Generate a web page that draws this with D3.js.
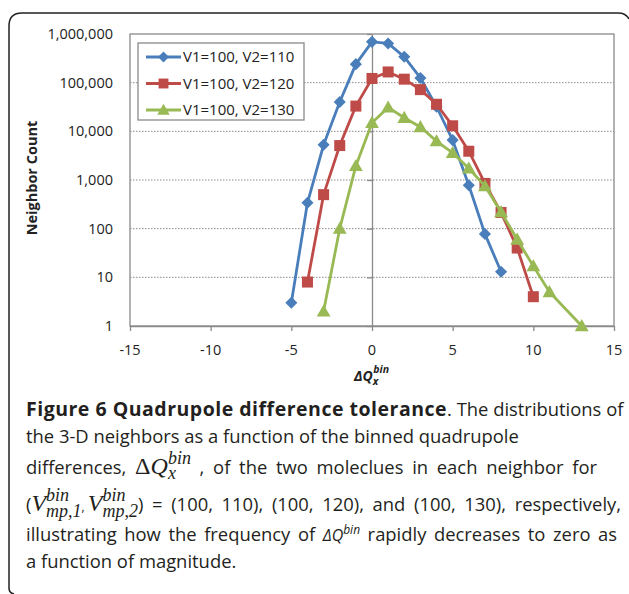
<!DOCTYPE html>
<html>
<head>
<meta charset="utf-8">
<script src="https://cdn.jsdelivr.net/npm/d3@7"></script>
<style>
  html, body { margin: 0; padding: 0; background: #fff; }
  svg { display: block; }
  svg text { font-family: "Open Sans", sans-serif; }
</style>
</head>
<body>
<svg id="chart" width="629" height="594"></svg>
<script>
// ---- data ----
const seriesNames = ["V1=100, V2=110", "V1=100, V2=120", "V1=100, V2=130"];
const xBlue = [-5, -4, -3, -2, -1, 0, 1, 2, 3, 4, 5, 6, 7, 8];
const yBlue = [3, 340, 5300, 40000, 240000, 690000, 640000, 340000, 125000, 32000, 6600, 780, 78, 13];
const xRed = [-4, -3, -2, -1, 0, 1, 2, 3, 4, 5, 6, 7, 8, 9, 10];
const yRed = [8, 500, 5100, 33000, 122000, 166000, 118000, 72000, 36000, 13000, 3900, 850, 215, 40, 4];
const xGreen = [-3, -2, -1, 0, 1, 2, 3, 4, 5, 6, 7, 8, 9, 10, 11, 13];
const yGreen = [2, 100, 1950, 15000, 31000, 19000, 12300, 6300, 3600, 1740, 750, 220, 60, 17, 5, 1];
const xTicks = [-15, -10, -5, 0, 5, 10, 15];
const yTicks = [1, 10, 100, 1000, 10000, 100000, 1000000];
const yTickLabels = ["1", "10", "100", "1,000", "10,000", "100,000", "1,000,000"];
const colors = ["#4A7EBB", "#BE4B48", "#98B954"];
const markerTypes = ["diamond", "square", "triangle"];

const series = [
  { name: seriesNames[0], xs: xBlue, ys: yBlue },
  { name: seriesNames[1], xs: xRed, ys: yRed },
  { name: seriesNames[2], xs: xGreen, ys: yGreen }
];

const svg = d3.select("#chart");

// frame
svg.append("path")
  .attr("d", "M9,588 L9,26 Q9,13 22,13 L618,13 Q626,13 629,19 M9,588 Q9,593 14,594")
  .attr("fill", "none").attr("stroke", "#222").attr("stroke-width", 1.5);

const x = d3.scaleLinear().domain([-15, 15]).range([130, 614]);
const y = d3.scaleLog().domain([1, 1000000]).range([326, 34]);

const grey = "#8a8a8a";

// gridlines
svg.append("g").selectAll("line").data(yTicks.slice(1, -1)).join("line")
  .attr("x1", x(-15)).attr("x2", x(15))
  .attr("y1", d => y(d)).attr("y2", d => y(d))
  .attr("stroke", grey).attr("stroke-width", 1).attr("stroke-dasharray", "1.5,1.5");

// plot border
svg.append("rect")
  .attr("x", x(-15)).attr("y", y(1000000))
  .attr("width", x(15) - x(-15)).attr("height", y(1) - y(1000000))
  .attr("fill", "none").attr("stroke", grey).attr("stroke-width", 1.3);

// vertical axis at x=0
const yAxis = d3.axisLeft(y).tickValues(yTicks).tickFormat("").tickSize(5).tickSizeOuter(0);
svg.append("g").attr("transform", `translate(${x(0)},0)`).call(yAxis)
  .call(g => g.selectAll("line, path").attr("stroke", grey).attr("stroke-width", 1.3));

// x axis
const xAxis = d3.axisBottom(x).tickValues(xTicks).tickSize(5).tickSizeOuter(0).tickFormat("");
svg.append("g").attr("transform", `translate(0,${y(1)})`).call(xAxis)
  .call(g => g.selectAll("line, path").attr("stroke", grey).attr("stroke-width", 1.3));

// x tick labels
svg.append("g").selectAll("text").data(xTicks).join("text")
  .attr("x", d => x(d)).attr("y", 355)
  .attr("text-anchor", "middle").attr("font-size", 14.5).attr("fill", "#222")
  .text(d => d);

// y tick labels
svg.append("g").selectAll("text").data(yTicks).join("text")
  .attr("x", 113).attr("y", d => y(d) + 5)
  .attr("text-anchor", "end").attr("font-size", 14.5).attr("fill", "#222")
  .text((d, i) => yTickLabels[i]);

// y axis title
svg.append("text")
  .attr("transform", "translate(37,178) rotate(-90)")
  .attr("text-anchor", "middle").attr("font-size", 14.5).attr("font-weight", "bold").attr("fill", "#222")
  .text("Neighbor Count");

// x axis title
const xt = svg.append("text").attr("x", 354).attr("y", 381)
  .attr("font-size", 14).attr("font-weight", "bold").attr("font-style", "italic").attr("fill", "#222");
xt.append("tspan").text("ΔQ");
xt.append("tspan").attr("font-size", 10.5).attr("dy", 4).text("x");
xt.append("tspan").attr("font-size", 10.5).attr("dy", -12).attr("dx", -5).text("bin");

// markers
function marker(g, type, cx, cy, color, s) {
  if (type === "diamond") {
    const r = s * 0.55;
    g.append("path").attr("d", `M${cx},${cy - r}L${cx + r},${cy}L${cx},${cy + r}L${cx - r},${cy}Z`).attr("fill", color);
  } else if (type === "square") {
    const r = s * 0.5;
    g.append("rect").attr("x", cx - r).attr("y", cy - r).attr("width", 2 * r).attr("height", 2 * r).attr("fill", color);
  } else {
    const r = s * 0.6;
    g.append("path").attr("d", `M${cx},${cy - r}L${cx + r},${cy + r * 0.75}L${cx - r},${cy + r * 0.75}Z`).attr("fill", color);
  }
}
const sizes = [11, 11, 11.5];
const line = d3.line().x(d => x(d[0])).y(d => y(d[1]));
series.forEach((s, i) => {
  const pts = s.xs.map((v, k) => [v, s.ys[k]]);
  const g = svg.append("g");
  g.append("path").datum(pts).attr("d", line).attr("fill", "none")
    .attr("stroke", colors[i]).attr("stroke-width", 2.8).attr("stroke-linejoin", "round");
  pts.forEach(p => marker(g, markerTypes[i], x(p[0]), y(p[1]), colors[i], sizes[i]));
});

// legend
const lg = svg.append("g");
lg.append("rect").attr("x", 138).attr("y", 43).attr("width", 166).attr("height", 77)
  .attr("fill", "#fff").attr("stroke", grey).attr("stroke-width", 1.3);
series.forEach((s, i) => {
  const cy = 57 + i * 26.5;
  lg.append("line").attr("x1", 146).attr("x2", 181).attr("y1", cy).attr("y2", cy)
    .attr("stroke", colors[i]).attr("stroke-width", 2.8);
  marker(lg, markerTypes[i], 163.5, cy, colors[i], sizes[i] * 0.9);
  lg.append("text").attr("x", 183).attr("y", cy + 5).attr("font-size", 15).attr("fill", "#222").text(s.name);
});

// caption (word-level layout, optionally justified to a right edge)
const capSize = 18.4;
const capColor = "#231f20";
const serif = "'Liberation Serif', 'DejaVu Serif', serif";
const capLeft = 26;
function styleText(t, o) {
  t.attr("font-size", o.size || capSize).attr("fill", capColor)
    .style("font-family", o.family || null)
    .attr("font-weight", o.bold ? "bold" : null)
    .attr("font-style", o.italic ? "italic" : null)
    .attr("letter-spacing", o.ls || null)
    .style("white-space", "pre");
  return t;
}
function captionLine(yBase, segs, targetEnd) {
  const items = [];
  segs.forEach(seg => {
    if (seg.stack) {
      const parts = seg.stack.map(p => styleText(svg.append("text"), p).attr("y", yBase + p.dy).text(p.t));
      const w = d3.max(parts, p => p.node().getComputedTextLength());
      items.push({ kind: "stack", nodes: parts, w });
    } else {
      const probeA = styleText(svg.append("text"), seg).text("x x");
      const probeB = styleText(svg.append("text"), seg).text("xx");
      const sw = probeA.node().getComputedTextLength() - probeB.node().getComputedTextLength();
      probeA.remove(); probeB.remove();
      seg.t.split(/( )/).filter(s => s.length).forEach(tok => {
        if (tok === " ") items.push({ kind: "space", w: sw, fixed: seg.fixedSpace });
        else {
          const t = styleText(svg.append("text"), seg).attr("y", yBase + (seg.dy || 0)).text(tok);
          items.push({ kind: "word", nodes: [t], w: t.node().getComputedTextLength() });
        }
      });
    }
  });
  const natural = d3.sum(items, d => d.w);
  const nSpaces = items.filter(d => d.kind === "space" && !d.fixed).length;
  const extra = targetEnd && nSpaces ? Math.max(0, (targetEnd - capLeft - natural) / nSpaces) : 0;
  let cx = capLeft;
  items.forEach(it => {
    if (it.kind === "space") { cx += it.w + (it.fixed ? 0 : extra); return; }
    it.nodes.forEach(n => n.attr("x", cx));
    cx += it.w;
  });
}
captionLine(416, [
  { t: "Figure 6 Quadrupole difference tolerance", bold: true, size: 19.5, ls: 0.5 },
  { t: ". The distributions of" }
], 620);
captionLine(443, [{ t: "the 3-D neighbors as a function of the binned quadrupole" }]);
captionLine(474, [
  { t: "differences, " },
  { t: "Δ", family: serif, size: 24 },
  { t: "Q", family: serif, size: 24, italic: true },
  { stack: [
    { t: "bin", family: serif, size: 18, italic: true, dy: -10 },
    { t: "x", family: serif, size: 18, italic: true, dy: 5 }
  ] },
  { t: " , of the two moleclues in each neighbor for" }
], 597);
captionLine(511, [
  { t: "(" },
  { t: "V", family: serif, size: 24, italic: true },
  { stack: [
    { t: "bin", family: serif, size: 18, italic: true, dy: -10 },
    { t: "mp,1", family: serif, size: 18, italic: true, dy: 6 }
  ] },
  { t: ", ", size: 12, fixedSpace: true },
  { t: "V", family: serif, size: 24, italic: true },
  { stack: [
    { t: "bin", family: serif, size: 18, italic: true, dy: -10 },
    { t: "mp,2", family: serif, size: 18, italic: true, dy: 6 }
  ] },
  { t: ") = (100, 110), (100, 120), and (100, 130), respectively," }
], 621);
captionLine(541, [
  { t: "illustrating how the frequency of " },
  { t: "ΔQ", italic: true, size: 16 },
  { t: "bin", italic: true, size: 12, dy: -7 },
  { t: " rapidly decreases to zero as" }
], 617);
captionLine(568, [{ t: "a function of magnitude." }]);
</script>
</body>
</html>
